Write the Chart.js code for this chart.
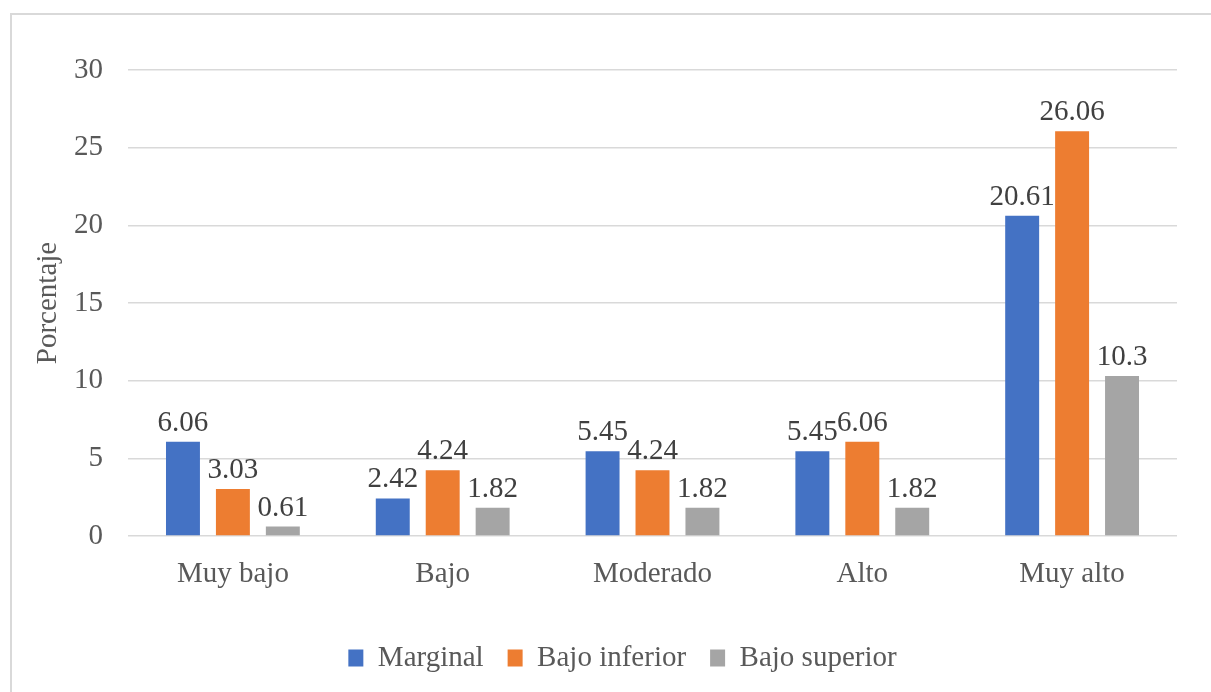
<!DOCTYPE html>
<html>
<head>
<meta charset="utf-8">
<script src="https://cdn.jsdelivr.net/npm/chart.js@4.4.0/dist/chart.umd.min.js"></script>
<style>
  html, body { margin: 0; padding: 0; background: #fff; overflow: hidden; }
  #frame {
    position: absolute; left: 10px; top: 13px;
    width: 1400px; height: 900px;
    border: 2px solid #d9d9d9; background: #fff;
  }
  #wrap { position: absolute; left: 0; top: 0; width: 1211px; height: 692px; }
</style>
</head>
<body>
<div id="frame"></div>
<div id="wrap"><canvas id="barChart"></canvas></div>
<script>
var categorias = ["Muy bajo", "Bajo", "Moderado", "Alto", "Muy alto"];
var marginal = [6.06, 2.42, 5.45, 5.45, 20.61];
var bajoInferior = [3.03, 4.24, 4.24, 6.06, 26.06];
var bajoSuperior = [0.61, 1.82, 1.82, 1.82, 10.3];
var nombresSeries = ["Marginal", "Bajo inferior", "Bajo superior"];

var fuente = "'Liberation Serif', 'Times New Roman', serif";
var gris = '#595959';

// etiquetas de valor encima de cada barra
var etiquetas = {
    id: 'etiquetas',
    afterDatasetsDraw: function(chart) {
        var ctx = chart.ctx;
        ctx.save();
        ctx.font = '29px ' + fuente;
        ctx.fillStyle = '#404040';
        ctx.textAlign = 'center';
        ctx.textBaseline = 'alphabetic';
        chart.data.datasets.forEach(function(ds, i) {
            chart.getDatasetMeta(i).data.forEach(function(bar, j) {
                ctx.fillText(String(ds.data[j]), bar.x, bar.y - 11);
            });
        });
        ctx.restore();
    }
};

var myBarChart = new Chart(document.getElementById('barChart'), {
    type: 'bar',
    data: {
        labels: categorias,
        datasets: [
            { label: nombresSeries[0], data: marginal, backgroundColor: '#4472C4', borderWidth: 0 },
            { label: nombresSeries[1], data: bajoInferior, backgroundColor: '#ED7D31', borderWidth: 0 },
            { label: nombresSeries[2], data: bajoSuperior, backgroundColor: '#A5A5A5', borderWidth: 0 }
        ]
    },
    options: {
        responsive: true,
        maintainAspectRatio: false,
        animation: false,
        layout: { padding: { left: 68, right: 34, top: 70, bottom: 9.5 } },
        datasets: { bar: { categoryPercentage: 0.714, barPercentage: 0.68 } },
        plugins: {
            tooltip: { enabled: false },
            legend: {
                position: 'bottom',
                labels: {
                    boxWidth: 15,
                    boxHeight: 17,
                    padding: 24,
                    color: gris,
                    font: { family: fuente, size: 29 }
                }
            }
        },
        scales: {
            x: {
                grid: { display: false },
                border: { display: false },
                ticks: { color: gris, padding: 13, font: { family: fuente, size: 29 } },
                afterFit: function(scale) { scale.height = 83.5; }
            },
            y: {
                min: 0,
                max: 30,
                ticks: { stepSize: 5, color: gris, padding: 25, font: { family: fuente, size: 29 } },
                grid: { color: '#d9d9d9', lineWidth: 1.5, drawTicks: false },
                border: { display: false },
                title: {
                    display: true,
                    text: 'Porcentaje',
                    color: gris,
                    padding: { top: -37, bottom: 0 },
                    font: { family: fuente, size: 29 }
                },
                afterFit: function(scale) { scale.width = 60; }
            }
        }
    },
    plugins: [etiquetas]
});
</script>
</body>
</html>
